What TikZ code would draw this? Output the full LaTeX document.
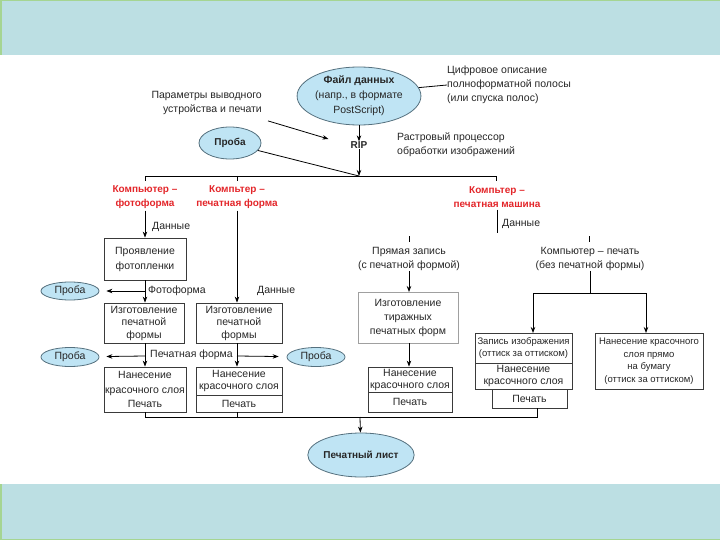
\documentclass[tikz,border=0pt]{standalone}
\usepackage{fontspec}
\setmainfont{Liberation Sans}
\usetikzlibrary{arrows.meta,shapes.geometric}
\definecolor{barfill}{HTML}{BCDFE3}
\definecolor{bargreen}{HTML}{A5D592}
\definecolor{ellfill}{HTML}{BFE4F4}
\definecolor{elldraw}{HTML}{55707E}
\definecolor{redtxt}{HTML}{E3262A}
\definecolor{boxdraw}{HTML}{3A3A3A}
\definecolor{lightbox}{HTML}{A0A0A0}
\tikzset{
  txt/.style={font=\fontsize{10.5}{14}\selectfont, inner sep=0pt, align=center, text=black!85},
  lbl/.style={txt, anchor=west},
  redlbl/.style={font=\bfseries\fontsize{10}{14}\selectfont, text=redtxt, align=center, inner sep=0pt},
  oval/.style={ellipse, draw=elldraw, fill=ellfill, line width=0.8pt, inner sep=0pt, txt},
  box/.style={rectangle, draw=boxdraw, line width=0.8pt, txt},
  con/.style={line width=0.8pt, draw=black},
  arr/.style={con, -{Stealth[length=6pt,width=4.5pt]}}
}
\begin{document}
\begin{tikzpicture}[x=1pt,y=-1pt]
\useasboundingbox (0,0) rectangle (720,540);
% bars
\fill[barfill] (0,0) rectangle (720,55);
\draw[bargreen, line width=1.5pt] (0.75,55) -- (0.75,0.75) -- (720,0.75);
\fill[barfill] (0,484) rectangle (720,540);
\draw[bargreen, line width=1.5pt] (0.75,484) -- (0.75,539.25) -- (720,539.25);

% top part
\node[oval, minimum width=114, minimum height=58, font=\fontsize{10.5}{15}\selectfont] (file) at (359,96)
  {\textbf{Файл данных}\\(напр., в формате\\PostScript)};
\node[lbl, align=left] (dd) at (447,85) {Цифровое описание\\полноформатной полосы\\(или спуска полос)};
\draw[con] (file.8) -- (dd.west);
\node[txt, anchor=east, align=right] (params) at (262,103) {Параметры выводного\\устройства и печати};
\node[txt, font=\bfseries\fontsize{10}{12}\selectfont] (rip) at (359,145) {RIP};
\node[lbl, align=left] (raster) at (397,145) {Растровый процессор\\обработки изображений};
\node[oval, minimum width=62, minimum height=32, font=\bfseries\fontsize{10}{12}\selectfont] (probaT) at (230,143) {Проба};
\draw[arr] (file) -- (rip);
\draw[arr] ([shift={(6,6)}]params.south east) -- ([shift={(-22,-6)}]rip.west);
\coordinate (j) at (359,176);
\draw[arr] (rip) -- (j);
\draw[con] (probaT.-15) -- (j);
% main bus
\draw[con] (145,181) -- (145,176) -- (496,176) -- (496,181);
\draw[con] (237,176) -- (237,181);

% red labels
\node[redlbl] (cf) at (145,197) {Компьютер –\\фотоформа};
\node[redlbl] (cp) at (237,197) {Компьтер –\\печатная форма};
\node[redlbl] (cm) at (497,197) {Компьтер –\\печатная машина};

% column 1
\node[box, minimum width=82, minimum height=42, font=\fontsize{10.5}{15}\selectfont] (prov) at (145,259) {Проявление\\фотопленки};
\node[lbl] (d1) at (152,227) {Данные};
\draw[arr] ([yshift=-2pt]cf.south) -- (prov);
\node[box, minimum width=80, minimum height=40, font=\fontsize{10.5}{12.5}\selectfont] (izg1) at (144,323) {Изготовление\\печатной\\формы};
\draw[arr] (prov) -- (prov |- izg1.north);
\node[lbl] (ff) at (148,291) {Фотоформа};
\node[oval, minimum width=58, minimum height=18] (pL1) at (70,291) {Проба};
\coordinate (c1) at (145,291);
\draw[arr, shorten >=7pt] (c1) -- (pL1);
\node[box, minimum width=82, minimum height=45, font=\fontsize{10.5}{14.5}\selectfont] (nan1) at (145,389.5) {Нанесение\\красочного слоя\\Печать};
\draw[arr] (izg1.south -| prov) -- (nan1);
\node[lbl] (pf) at (150,355) {Печатная форма};
\node[oval, minimum width=58, minimum height=19] (pL2) at (70,357) {Проба};
\coordinate (c2) at (145,356);
\draw[arr, shorten >=7pt] (c2) -- (pL2);

% column 2
\node[box, minimum width=86, minimum height=40, font=\fontsize{10.5}{12.5}\selectfont] (izg2) at (239,323) {Изготовление\\печатной\\формы};
\draw[arr] ([yshift=-2pt]cp.south) -- (cp.south |- izg2.north);
\node[lbl] (d2) at (257,291) {Данные};
\node[box, minimum width=86, minimum height=28, font=\fontsize{10.5}{12}\selectfont] (nan2a) at (239,381) {Нанесение\\красочного слоя};
\node[box, minimum width=86, minimum height=17] (nan2b) at (239,403.5) {Печать};
\draw[arr] (izg2.south -| cp.south) -- (cp.south |- nan2a.north);
\coordinate (c3) at (237,356);
\node[oval, minimum width=58, minimum height=19] (pR) at (316,357) {Проба};
\draw[arr, shorten >=8pt] (c3) -- (pR);

% column 3 / 4 (printing machine)
\draw[con] ([yshift=-2pt]cm.south) -- ++(0,23);
\node[lbl] (d3) at (502,224) {Данные};
\node[txt] (pz) at (409,259) {Прямая запись\\(с печатной формой)};
\node[txt] (kp) at (590,259) {Компьютер – печать\\(без печатной формы)};
\draw[con] (409,236) -- (409,242);
\draw[con] (589,236) -- (589,242);
\node[box, draw=lightbox, minimum width=100, minimum height=51] (tir) at (408,317.5) {Изготовление\\тиражных\\печатных форм};
\draw[arr] (pz.south -| 409,0) -- (409,292);
\node[box, minimum width=84, minimum height=25, font=\fontsize{10.5}{12}\selectfont] (nan3a) at (410,379.5) {Нанесение\\красочного слоя};
\node[box, minimum width=84, minimum height=20] (nan3b) at (410,402) {Печать};
\draw[arr] (tir.south -| 409,0) -- (nan3a.north -| 409,0);

\coordinate (k1) at (590,293);
\draw[con] (kp.south -| k1) -- (k1);
\node[box, minimum width=97, minimum height=30, font=\fontsize{9.5}{12}\selectfont] (zapA) at (523.5,348) {Запись изображения\\(оттиск за оттиском)};
\node[box, minimum width=97, minimum height=26, font=\fontsize{10.5}{12}\selectfont] (zapB) at (523.5,376) {Нанесение\\красочного слоя};
\node[box, minimum width=75, minimum height=19] (pech4) at (529.5,398.5) {Печать};
\node[box, minimum width=108, minimum height=56, font=\fontsize{9.5}{12.5}\selectfont] (nb) at (649,361) {Нанесение красочного\\слоя прямо\\на бумагу\\(оттиск за оттиском)};
\draw[arr] (533,293) -- (533,333);
\draw[arr] (533,293) -- (646,293) -- (646,333);

% bottom bus
\coordinate (busL) at (145,417);
\coordinate (busR) at (537,417);
\draw[con] (nan1.south) -- (busL) -- (busR) -- (busR |- pech4.south);
\draw[con] (237,412) -- (237,417);
\node[oval, minimum width=82, minimum height=44, font=\bfseries\fontsize{10}{12}\selectfont] (list) at (361,455) {Печатный лист};
\draw[arr] (360,417) -- (list);
\end{tikzpicture}
\end{document}
